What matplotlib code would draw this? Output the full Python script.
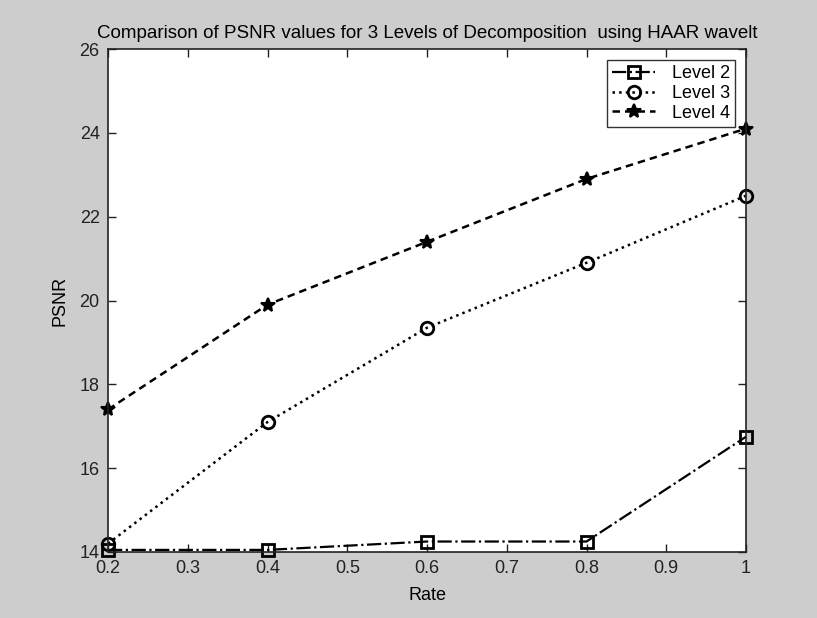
import matplotlib
matplotlib.use("Agg")
import matplotlib.pyplot as plt

rate = [0.2, 0.4, 0.6, 0.8, 1.0]
level2 = [14.05, 14.05, 14.25, 14.25, 16.75]
level3 = [14.2, 17.1, 19.35, 20.9, 22.5]
level4 = [17.4, 19.9, 21.4, 22.9, 24.1]

x_ticks = [0.2, 0.3, 0.4, 0.5, 0.6, 0.7, 0.8, 0.9, 1.0]
x_tick_labels = ["0.2", "0.3", "0.4", "0.5", "0.6", "0.7", "0.8", "0.9", "1"]
y_ticks = [14, 16, 18, 20, 22, 24, 26]

plt.rcParams["font.family"] = ["Liberation Sans Narrow", "Liberation Sans", "DejaVu Sans"]
plt.rcParams["font.size"] = 12

fondo = "#cdcdcd"
fig = plt.figure(figsize=(8.17, 6.18), dpi=100, facecolor=fondo)
ax = fig.add_axes([108 / 817, 66 / 618, 638 / 817, 503 / 618])
ax.set_facecolor("white")

ax.plot(rate, level2, color="black", linestyle="-.", linewidth=1.6,
        marker="s", markersize=9, markerfacecolor="none",
        markeredgewidth=2, label="Level 2", clip_on=False)
ax.plot(rate, level3, color="black", linestyle=":", linewidth=1.8,
        marker="o", markersize=9, markerfacecolor="none",
        markeredgewidth=2, label="Level 3", clip_on=False)
ax.plot(rate, level4, color="black", linestyle=(0, (3, 2)), linewidth=1.8,
        marker="*", markersize=10, markeredgewidth=1.5,
        label="Level 4", clip_on=False)

ax.set_xlim(0.2, 1.0)
ax.set_ylim(14, 26)
ax.set_xticks(x_ticks)
ax.set_xticklabels(x_tick_labels)
ax.set_yticks(y_ticks)
ax.tick_params(direction="in", top=True, right=True, length=6,
               width=1, labelsize=13, colors="#222222", pad=6)
for lado in ax.spines.values():
    lado.set_linewidth(1.2)
    lado.set_color("#222222")

ax.set_xlabel("Rate", fontsize=13, labelpad=7)
ax.set_ylabel("PSNR", fontsize=13, labelpad=8)
ax.set_title("Comparison of PSNR values for 3 Levels of Decomposition  using HAAR wavelt",
             fontsize=13.5, pad=8)

leyenda = ax.legend(loc="upper right", fontsize=13, frameon=True, fancybox=False,
                    edgecolor="black", handlelength=2.4, handletextpad=0.9,
                    borderpad=0.3, labelspacing=0.15, borderaxespad=0.6)
leyenda.get_frame().set_linewidth(1.0)

fig.savefig("out.png", dpi=100, facecolor=fondo)
